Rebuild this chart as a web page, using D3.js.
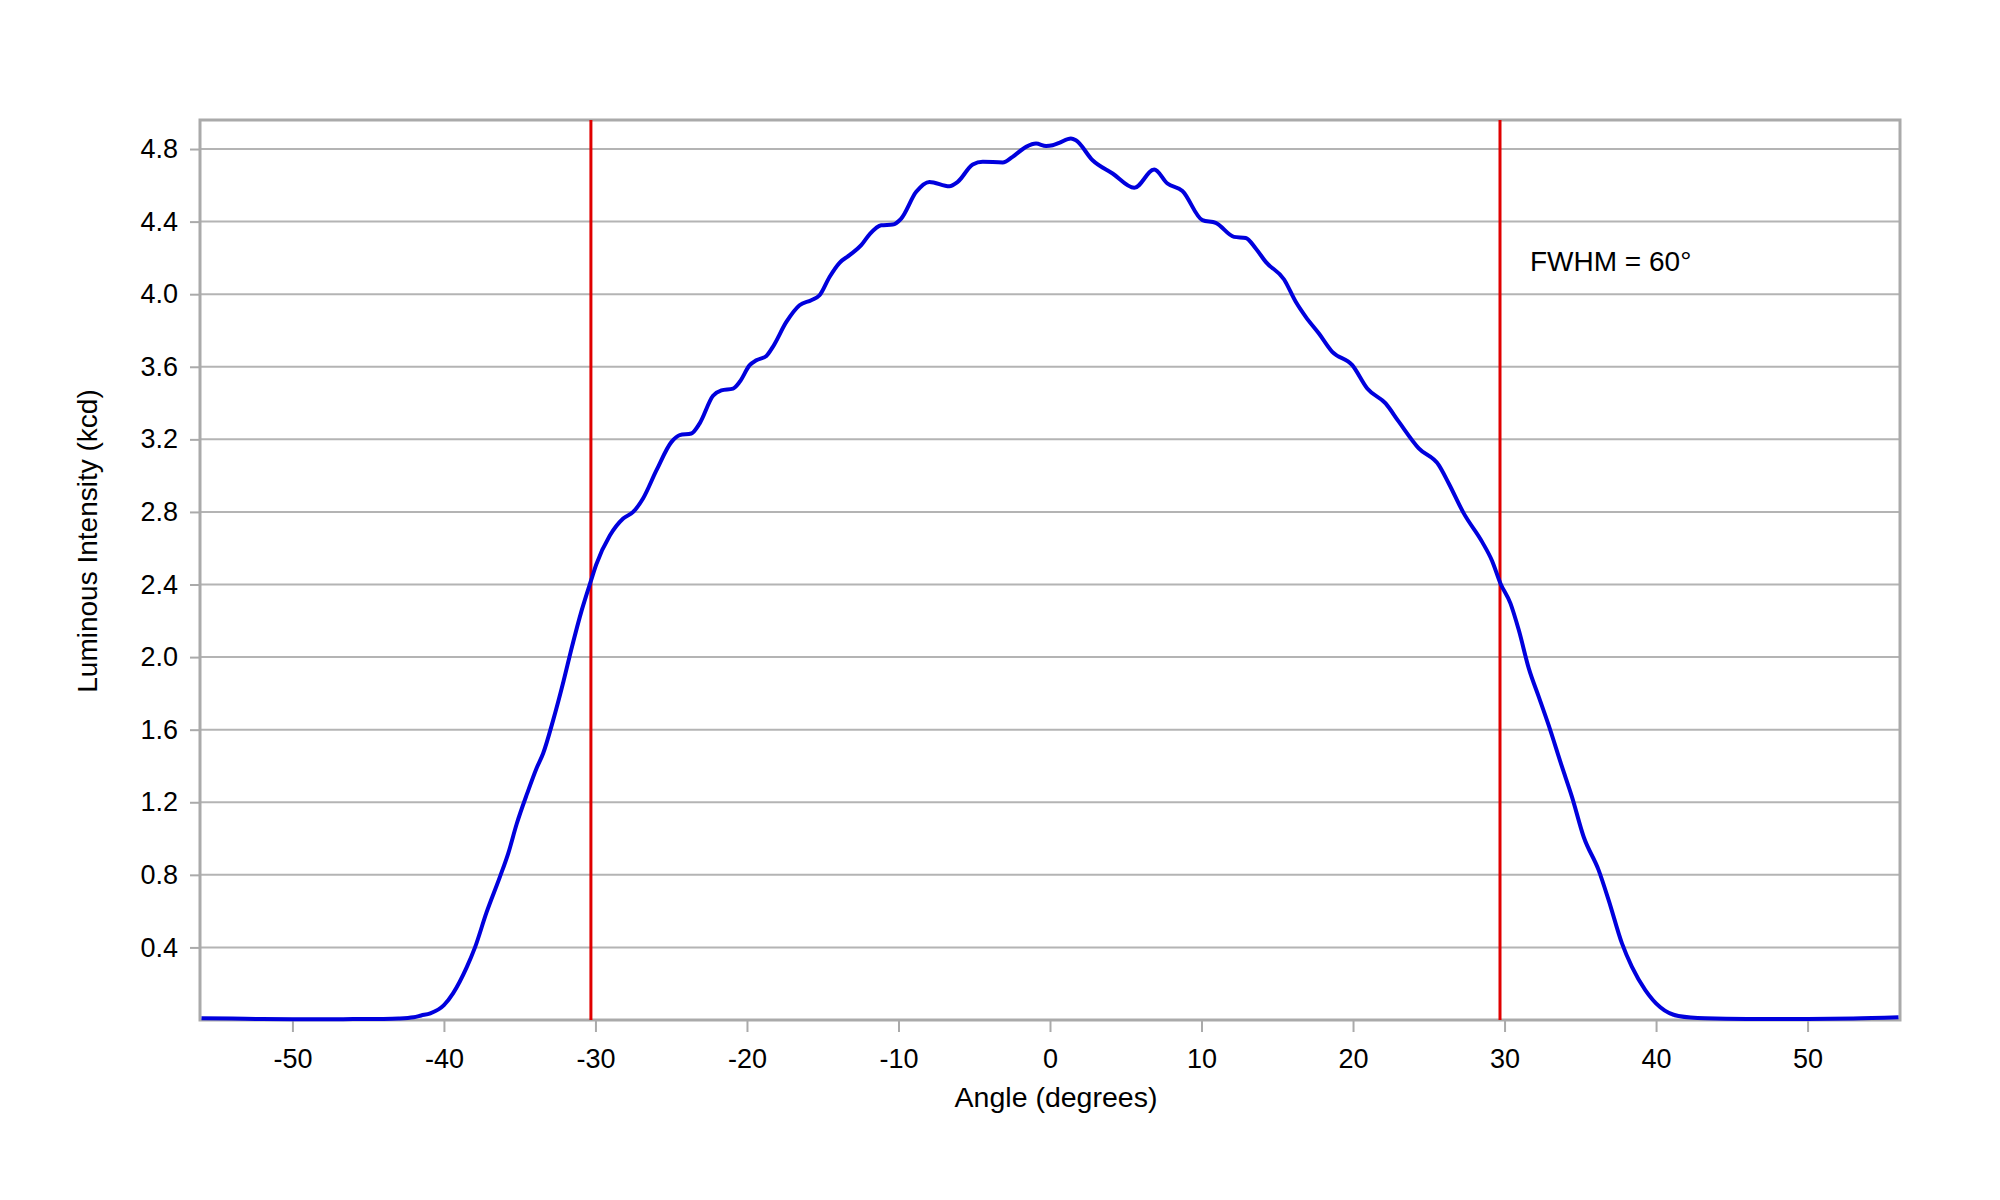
<!DOCTYPE html>
<html>
<head>
<meta charset="utf-8">
<script src="https://cdn.jsdelivr.net/npm/d3@7"></script>
<style>
  body { margin: 0; background: #fff; }
  svg { display: block; }
  text { font-family: "Liberation Sans", Arial, sans-serif; fill: #000; }
</style>
</head>
<body>
<svg id="chart" width="2000" height="1200" viewBox="0 0 2000 1200"></svg>
<script>
// angle (degrees) and luminous intensity (kcd)
const angles = [
  -56, -54, -52, -50, -48, -46, -44, -43, -42, -41.5, -40.9, -40.0, -39.4, -38.5,
  -37.95, -37.2, -36.3, -35.75, -35.2, -34.5, -33.9, -33.45, -32.8, -32.1, -31.6,
  -30.9, -30.3, -29.95, -29.05, -28.17, -27.51, -26.86, -25.97, -24.98, -24.44,
  -23.67, -23.12, -22.24, -21.69, -20.92, -20.48, -19.82, -19.38, -18.72, -18.29,
  -17.4, -16.53, -15.76, -15.21, -14.55, -13.89, -13.23, -12.46, -11.91, -11.14,
  -10.38, -9.82, -8.83, -7.96, -6.64, -6.09, -5.1, -4.44, -3.12, -2.47, -1.58,
  -0.92, -0.26, 0.17, 0.61, 1.38, 1.71, 2.81, 4.13, 5.56, 6.88, 7.75, 8.74, 10.06,
  10.94, 12.15, 12.92, 13.58, 14.24, 15.45, 16.22, 16.88, 17.75, 18.63, 19.95,
  20.94, 22.15, 23.03, 24.34, 25.66, 26.32, 27.31, 28.52, 29.18, 29.73, 30.39,
  30.94, 31.6, 32.26, 32.91, 33.79, 34.45, 35.22, 36.21, 36.87, 37.75, 38.4,
  39.29, 40.28, 41.48, 43.24, 46, 50, 53, 56
];
const intensity = [
  0.010, 0.008, 0.005, 0.004, 0.004, 0.005, 0.006, 0.008, 0.015, 0.025, 0.037, 0.082, 0.147, 0.29,
  0.40, 0.59, 0.79, 0.92, 1.08, 1.25, 1.385, 1.47, 1.65, 1.87, 2.04,
  2.26, 2.42, 2.51, 2.67, 2.764, 2.80, 2.874, 3.03, 3.186, 3.223,
  3.232, 3.288, 3.44, 3.47, 3.48, 3.517, 3.609, 3.636, 3.66, 3.71,
  3.847, 3.939, 3.967, 3.994, 4.095, 4.173, 4.215, 4.27, 4.33, 4.38,
  4.384, 4.417, 4.564, 4.619, 4.595, 4.619, 4.715, 4.73, 4.726, 4.757, 4.812,
  4.83, 4.817, 4.821, 4.834, 4.858, 4.848, 4.738, 4.665, 4.586, 4.687, 4.61, 4.569, 4.408,
  4.393, 4.316, 4.31, 4.252, 4.178, 4.081, 3.958, 3.875, 3.783, 3.682, 3.609,
  3.48, 3.398, 3.296, 3.15, 3.058, 2.957, 2.792, 2.635, 2.530, 2.406, 2.296,
  2.149, 1.938, 1.781, 1.625, 1.396, 1.23, 1.01, 0.826, 0.661, 0.422, 0.294,
  0.165, 0.07, 0.022, 0.009, 0.006, 0.006, 0.008, 0.015
];
const xTicks = [-50, -40, -30, -20, -10, 0, 10, 20, 30, 40, 50];
const yTicks = [0.4, 0.8, 1.2, 1.6, 2.0, 2.4, 2.8, 3.2, 3.6, 4.0, 4.4, 4.8];
const halfMaxAngles = [-30.3, 29.7]; // red FWHM markers
const fwhmLabel = "FWHM = 60°";

const svg = d3.select("#chart");
const plot = { left: 200, right: 1900, top: 120, bottom: 1020 };
const fontSize = 27;

const x = d3.scaleLinear().domain([-56.1, 56.1]).range([plot.left, plot.right]);
const y = d3.scaleLinear().domain([0, 4.96]).range([plot.bottom, plot.top]);

const points = angles.map((a, i) => ({ a: a, v: intensity[i] }));

// horizontal grid
svg.append("g")
  .selectAll("line")
  .data(yTicks)
  .enter()
  .append("line")
  .attr("x1", plot.left)
  .attr("x2", plot.right)
  .attr("y1", (d) => y(d))
  .attr("y2", (d) => y(d))
  .attr("stroke", "#b4b4b4")
  .attr("stroke-width", 2);

// axes (plain hyphen for negatives, like the original)
const xAxis = svg.append("g")
  .attr("transform", `translate(0,${plot.bottom})`)
  .call(d3.axisBottom(x).tickValues(xTicks).tickSize(12).tickPadding(17).tickFormat((d) => String(d)));
const yAxis = svg.append("g")
  .attr("transform", `translate(${plot.left},0)`)
  .call(d3.axisLeft(y).tickValues(yTicks).tickSize(10).tickPadding(12).tickFormat((d) => d.toFixed(1)));

[xAxis, yAxis].forEach((ax) => {
  ax.select(".domain").remove();
  ax.selectAll(".tick line").attr("stroke", "#aaaaaa").attr("stroke-width", 2);
  ax.selectAll(".tick text")
    .attr("fill", "#000")
    .style("font-family", '"Liberation Sans", Arial, sans-serif')
    .style("font-size", fontSize + "px");
});

// plot frame
svg.append("rect")
  .attr("x", plot.left)
  .attr("y", plot.top)
  .attr("width", plot.right - plot.left)
  .attr("height", plot.bottom - plot.top)
  .attr("fill", "none")
  .attr("stroke", "#aaaaaa")
  .attr("stroke-width", 3);

// FWHM markers
svg.append("g")
  .selectAll("line")
  .data(halfMaxAngles)
  .enter()
  .append("line")
  .attr("x1", (d) => x(d))
  .attr("x2", (d) => x(d))
  .attr("y1", plot.top)
  .attr("y2", plot.bottom)
  .attr("stroke", "#e00000")
  .attr("stroke-width", 3);

// intensity curve
const line = d3.line()
  .x((d) => x(d.a))
  .y((d) => y(d.v))
  .curve(d3.curveMonotoneX);

svg.append("path")
  .datum(points)
  .attr("d", line)
  .attr("fill", "none")
  .attr("stroke", "#0000dd")
  .attr("stroke-width", 4)
  .attr("stroke-linejoin", "round");

// labels
svg.append("text")
  .attr("x", 1056)
  .attr("y", 1107)
  .attr("text-anchor", "middle")
  .style("font-size", "28.5px")
  .text("Angle (degrees)");

svg.append("text")
  .attr("transform", "translate(97,541) rotate(-90)")
  .attr("text-anchor", "middle")
  .style("font-size", "28px")
  .text("Luminous Intensity (kcd)");

svg.append("text")
  .attr("x", 1530)
  .attr("y", 271)
  .style("font-size", "28px")
  .text(fwhmLabel);
</script>
</body>
</html>
